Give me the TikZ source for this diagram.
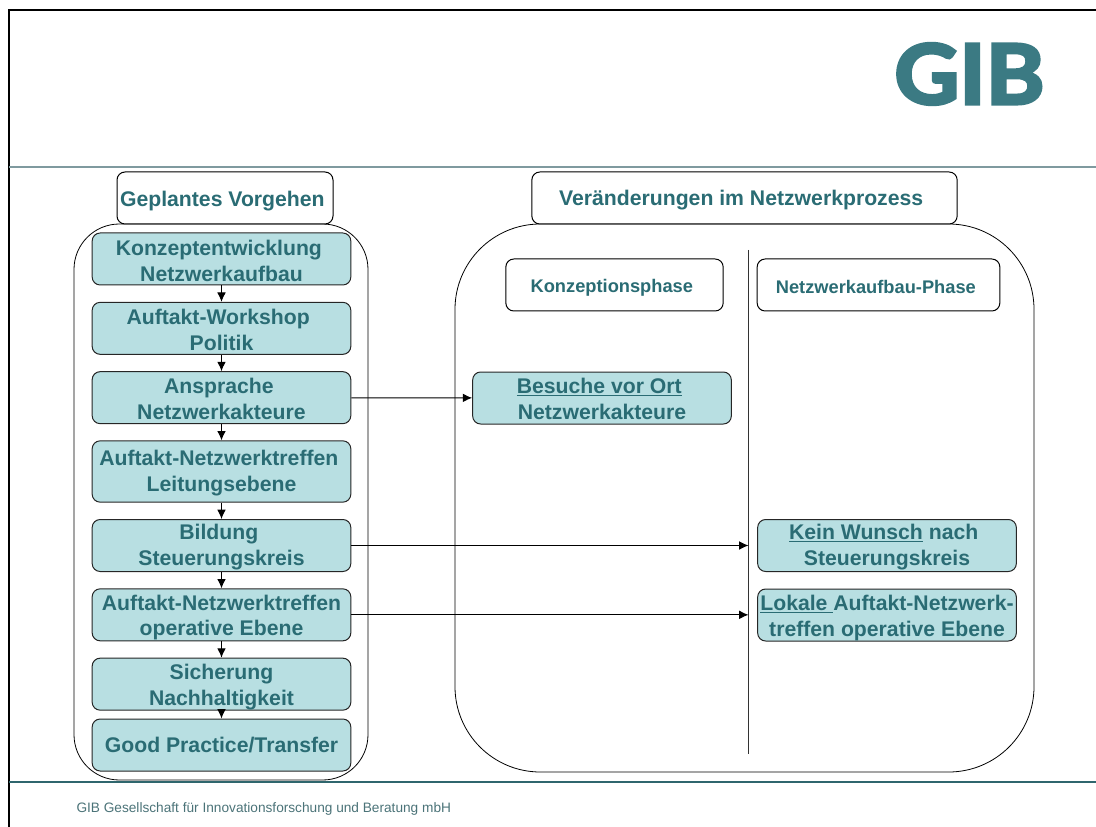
\documentclass[tikz,border=0pt]{standalone}
\usepackage{fontspec}
\setmainfont{Liberation Sans}
\newfontfamily\logofont[FakeBold=4,FakeStretch=1.08]{Lato}
\usepackage{tikz}
\usetikzlibrary{arrows.meta,positioning,calc}
\definecolor{gibteal}{HTML}{2A6C74}
\definecolor{giblogo}{HTML}{3B7A83}
\definecolor{gibfill}{HTML}{B8DFE2}
\definecolor{gibrule}{HTML}{7F9A9F}
\definecolor{gibfoot}{HTML}{4B7378}
\definecolor{gibbase}{HTML}{2F666D}
\newcommand{\lead}[2][14pt]{\rule{0pt}{#1}#2}

\begin{document}
\begin{tikzpicture}[x=0.75pt,y=-0.75pt,->,>={Latex[length=7pt,width=6.5pt]},line width=0.75pt,node distance=52pt]
\tikzset{
  stepbox/.style={draw=black!85,fill=gibfill,rounded corners=6pt,minimum width=194pt,minimum height=39pt,inner sep=0pt,align=center,text=gibteal,font=\bfseries\fontsize{15.9}{19.4}\selectfont},
  headbox/.style={draw=black,fill=white,rounded corners=6pt,minimum height=39pt,inner sep=0pt,align=center,text=gibteal,font=\bfseries\fontsize{15.9}{19.4}\selectfont},
  phasebox/.style={headbox,font=\bfseries\fontsize{13.7}{16}\selectfont},
  panel/.style={draw=black,line width=0.6pt,-}
}
\useasboundingbox (0,0) rectangle (1096,827);

% page frame
\draw[-,line width=1.6pt,black] (9,827) -- (9,10) -- (1096,10);
\draw[-,line width=1pt,gibrule] (9,167) -- (1096,167);
\draw[-,line width=0.8pt,gibbase] (9,782) -- (1096,782);
\node[anchor=center,text=giblogo,font=\logofont\bfseries\fontsize{62}{62}\selectfont] (logo) at (969.5,74) {GIB};
\node[anchor=west,text=gibfoot,font=\fontsize{10.25}{12}\selectfont,inner sep=0pt] (foot) at (76,808.5) {GIB Gesellschaft für Innovationsforschung und Beratung mbH};

% panels
\draw[panel,rounded corners=34pt] (74,224) rectangle (368,780);
\draw[panel,rounded corners=64pt] (455,224) rectangle (1034,772);

\node[headbox,minimum width=162pt] (plan) at (225,198) {\lead[16pt]{Geplantes Vorgehen\kern4pt}};
\node[headbox,minimum width=319pt] (chg) at (744.5,198) {\lead[14.5pt]{Veränderungen im Netzwerkprozess\kern5pt}};
\node[phasebox,minimum width=163pt] (konz) at (614.5,285) {\lead[14.5pt]{Konzeptionsphase\kern4pt}};
\node[phasebox,minimum width=182pt] (aufb) at (878.5,285) {\lead[13pt]{Netzwerkaufbau-Phase\kern4pt}};

\coordinate (sepA) at (748.5,250);
\coordinate (sepB) at (748.5,754);
\draw[-,black!80] (sepA) -- (sepB);

% planned steps
\node[stepbox] (A) at (221.5,259) {\lead{Konzeptentwicklung\kern4pt}\\Netzwerkaufbau};
\node[stepbox] (B)[below of=A] {\lead{Auftakt-Workshop\kern5pt}\\Politik};
\node[stepbox] (C)[below of=B] {\lead{Ansprache\kern4pt}\\Netzwerkakteure};
\node[stepbox,minimum height=46pt] (D) at (221.5,471.5) {\lead{Auftakt-Netzwerktreffen\kern4pt}\\Leitungsebene};
\node[stepbox] (E) at (221.5,545.5) {\lead{Bildung\kern4pt}\\Steuerungskreis};
\node[stepbox] (F)[below of=E] {\lead[15.5pt]{Auftakt-Netzwerktreffen}\\operative Ebene};
\node[stepbox] (G)[below of=F] {\lead[15.5pt]{Sicherung}\\Nachhaltigkeit};
\node[stepbox] (H) at (221.5,745) {Good Practice/Transfer};

% changes
\node[stepbox] (P) at (602,398) {\lead[13pt]{\underline{Besuche vor Ort}\kern4pt}\\Netzwerkakteure};
\node[stepbox] (Q) at (887,545.5) {\lead{\underline{Kein Wunsch} nach\kern5pt}\\Steuerungskreis};
\node[stepbox] (R) at (887,615) {\lead[15.5pt]{\underline{Lokale\ }Auftakt-Netzwerk-}\\treffen operative Ebene};

\path (A) edge [->] (B);
\path (B) edge [->] (C);
\path (C) edge [->] (D);
\path (D) edge [->] (E);
\path (E) edge [->] (F);
\path (F) edge [->] (G);
\path (G) edge [->] (H);

\path (C) edge [->] (P);
\path (E.east) edge [->] (E.east -| sepA);
\path (F.east) edge [->] (F.east -| sepA);

\end{tikzpicture}
\end{document}
